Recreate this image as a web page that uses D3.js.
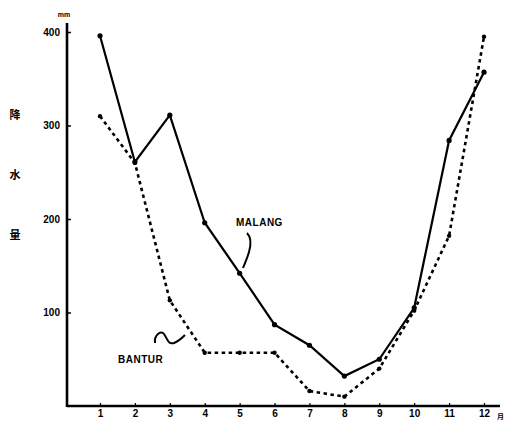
<!DOCTYPE html>
<meta charset="utf-8">
<style>
body { margin: 0; background: #fff; }
.axis text { font-family: "Liberation Sans", Arial, sans-serif; font-weight: bold; font-size: 10px; fill: #000; }
.axis path, .axis line { stroke: #000; }
</style>
<body>
<svg width="505" height="422"></svg>
<script src="https://d3js.org/d3.v7.min.js"></script>
<script>
// rainfall by month, two stations

var months = [1, 2, 3, 4, 5, 6, 7, 8, 9, 10, 11, 12];
var malang = [396, 261, 311, 196, 142, 87, 65, 32, 50, 105, 284, 357];
var bantur = [310, 260, 113, 57, 57, 57, 16, 10, 40, 102, 182, 395];
var yTicks = [100, 200, 300, 400];
var yTitle = ["降", "水", "量"];

var svg = d3.select("svg");

var x = d3.scaleLinear().domain([1, 12]).range([100, 484]);
var y = d3.scaleLinear().domain([0, 400]).range([406, 32]);

// axes
var xAxis = svg.append("g")
    .attr("class", "axis")
    .attr("transform", "translate(0,406)")
    .call(d3.axisBottom(x).tickValues(months).tickSize(-3).tickPadding(4).tickFormat(d3.format("d")));
xAxis.select(".domain").remove();
xAxis.selectAll("line").attr("stroke-width", 1.2);
svg.append("line")
    .attr("x1", 67).attr("x2", 500)
    .attr("y1", 406).attr("y2", 406)
    .attr("stroke", "#000").attr("stroke-width", 2.4);

var yAxis = svg.append("g")
    .attr("class", "axis")
    .attr("transform", "translate(67,0)")
    .call(d3.axisLeft(y).tickValues(yTicks).tickSize(-4).tickPadding(7));
yAxis.select(".domain").remove();
yAxis.selectAll("line").attr("stroke-width", 1.5);
svg.append("line")
    .attr("x1", 67).attr("x2", 67)
    .attr("y1", 23).attr("y2", 407)
    .attr("stroke", "#000").attr("stroke-width", 2.6);

// unit mark above axis
svg.append("text")
    .attr("x", 64).attr("y", 17)
    .attr("text-anchor", "middle")
    .attr("font-family", "Liberation Sans, sans-serif")
    .attr("font-weight", "bold")
    .attr("font-size", 7)
    .text("mm");

// axis title, vertical chars
svg.selectAll(".ytitle")
    .data(yTitle)
    .enter().append("text")
      .attr("class", "ytitle")
      .attr("x", 15)
      .attr("y", function(d, i) { return 115 + i * 60; })
      .attr("dy", "0.35em")
      .attr("text-anchor", "middle")
      .attr("font-family", "Noto Sans CJK SC, sans-serif")
      .attr("font-weight", "bold")
      .attr("font-size", 11)
      .text(function(d) { return d; });

// month unit at the axis end
svg.append("text")
    .attr("x", 497).attr("y", 419)
    .attr("font-family", "Noto Sans CJK SC, sans-serif")
    .attr("font-weight", "bold")
    .attr("font-size", 7)
    .text("月");

var line = d3.line()
    .x(function(d, i) { return x(months[i]); })
    .y(function(d) { return y(d); });

svg.append("path")
    .datum(bantur)
    .attr("d", line)
    .attr("fill", "none")
    .attr("stroke", "#000")
    .attr("stroke-width", 2.6)
    .attr("stroke-dasharray", "3.5,3.5");

svg.append("path")
    .datum(malang)
    .attr("d", line)
    .attr("fill", "none")
    .attr("stroke", "#000")
    .attr("stroke-width", 2.2);

svg.selectAll(".mdot")
    .data(malang)
    .enter().append("circle")
      .attr("class", "mdot")
      .attr("cx", function(d, i) { return x(months[i]); })
      .attr("cy", function(d) { return y(d); })
      .attr("r", 2.6);

svg.selectAll(".bdot")
    .data(bantur)
    .enter().append("circle")
      .attr("class", "bdot")
      .attr("cx", function(d, i) { return x(months[i]); })
      .attr("cy", function(d) { return y(d); })
      .attr("r", 2.2);

// labels with leader curves
svg.append("text")
    .attr("x", 236).attr("y", 222)
    .attr("dy", "0.35em")
    .attr("font-family", "Liberation Sans, sans-serif")
    .attr("font-weight", "bold")
    .attr("font-size", 10)
    .attr("letter-spacing", 0.5)
    .text("MALANG");
svg.append("path")
    .attr("d", "M247,233 C252,238 251,245 249,252 C247,259 245,263 243,268")
    .attr("fill", "none").attr("stroke", "#000").attr("stroke-width", 2);

svg.append("text")
    .attr("x", 118).attr("y", 359)
    .attr("dy", "0.35em")
    .attr("font-family", "Liberation Sans, sans-serif")
    .attr("font-weight", "bold")
    .attr("font-size", 10)
    .attr("letter-spacing", 0.5)
    .text("BANTUR");
svg.append("path")
    .attr("d", "M155,343 C154,335 161,330 164,334 C167,338 168,345 174,343 C179,341 182,338 185,335")
    .attr("fill", "none").attr("stroke", "#000").attr("stroke-width", 2);
</script>
</body>
